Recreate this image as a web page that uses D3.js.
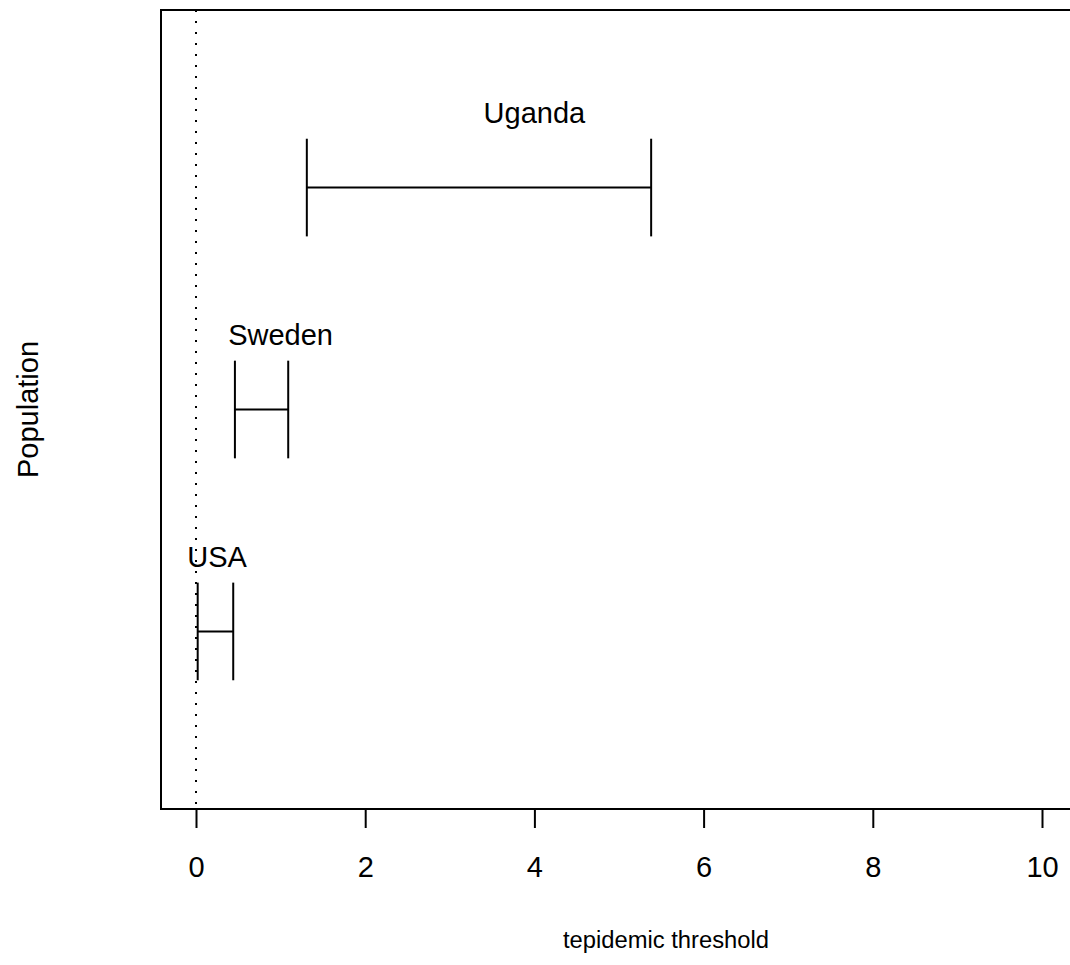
<!DOCTYPE html>
<html>
<head>
<meta charset="utf-8">
<script src="https://cdn.jsdelivr.net/npm/d3@7"></script>
<style>
  html, body { margin: 0; padding: 0; background: #fff; }
  svg { display: block; }
  text { font-family: "Liberation Sans", Arial, sans-serif; fill: #000; }
</style>
</head>
<body>
<svg id="chart" width="1070" height="965"></svg>
<script>
// Interval estimates of the epidemic threshold per population
const populations = ["USA", "Sweden", "Uganda"];
const rowPos = [1, 2, 3];
const lower = [0.02, 0.46, 1.31];
const upper = [0.44, 1.09, 5.38];
const labelAt = [0.25, 1.0, 4.0];
const xTicks = [0, 2, 4, 6, 8, 10];
const xLabel = "tepidemic threshold";
const yLabel = "Population";

const svg = d3.select("#chart");
const W = 1070, H = 965;

// Plot region (extends past the right edge of the page)
const plot = { left: 161, top: 10, right: 1106, bottom: 809 };

const x = d3.scaleLinear().domain([0, 10]).range([196, 1042]);
const y = d3.scaleLinear().domain([0.2, 3.8]).range([plot.bottom, plot.top]);

const fontPx = 29;
const lw = 2;
const capHalf = 0.22;   // half height of the interval end caps, in row units
const labelLift = 0.29; // label baseline above the row, in row units

// Reference line at zero
svg.append("line")
  .attr("x1", x(0)).attr("x2", x(0))
  .attr("y1", plot.top).attr("y2", plot.bottom)
  .attr("stroke", "#000").attr("stroke-width", 2)
  .attr("stroke-dasharray", "2,9");

// Intervals
const rows = populations.map((p, i) => ({
  name: p, pos: rowPos[i], lo: lower[i], hi: upper[i], lab: labelAt[i]
}));

const g = svg.append("g");
rows.forEach(d => {
  g.append("line")
    .attr("x1", x(d.lo)).attr("x2", x(d.hi))
    .attr("y1", y(d.pos)).attr("y2", y(d.pos))
    .attr("stroke", "#000").attr("stroke-width", lw);
  [d.lo, d.hi].forEach(v => {
    g.append("line")
      .attr("x1", x(v)).attr("x2", x(v))
      .attr("y1", y(d.pos + capHalf)).attr("y2", y(d.pos - capHalf))
      .attr("stroke", "#000").attr("stroke-width", lw);
  });
  g.append("text")
    .attr("x", x(d.lab))
    .attr("y", y(d.pos + labelLift))
    .attr("text-anchor", "middle")
    .attr("font-size", fontPx)
    .text(d.name);
});

// Box around the plot region
svg.append("rect")
  .attr("x", plot.left).attr("y", plot.top)
  .attr("width", plot.right - plot.left)
  .attr("height", plot.bottom - plot.top)
  .attr("fill", "none").attr("stroke", "#000").attr("stroke-width", lw);

// Bottom axis
const axis = d3.axisBottom(x).tickValues(xTicks).tickSize(19).tickPadding(0)
  .tickFormat(d3.format("d"));
const ax = svg.append("g").attr("transform", `translate(0,${plot.bottom})`).call(axis);
ax.select(".domain").attr("d", `M${x(0)},0H${x(10)}`).attr("stroke", "#000").attr("stroke-width", lw);
ax.selectAll(".tick line").attr("stroke", "#000").attr("stroke-width", lw);
ax.selectAll(".tick text")
  .attr("font-size", fontPx)
  .attr("font-family", "Liberation Sans, Arial, sans-serif")
  .attr("dy", null)
  .attr("y", 877 - plot.bottom)
  .attr("fill", "#000");

// Axis titles
svg.append("text")
  .attr("x", 666).attr("y", 948)
  .attr("text-anchor", "middle")
  .attr("font-size", fontPx * 0.82)
  .text(xLabel);

svg.append("text")
  .attr("transform", `translate(38,${(plot.top + plot.bottom) / 2}) rotate(-90)`)
  .attr("text-anchor", "middle")
  .attr("font-size", fontPx)
  .text(yLabel);
</script>
</body>
</html>
